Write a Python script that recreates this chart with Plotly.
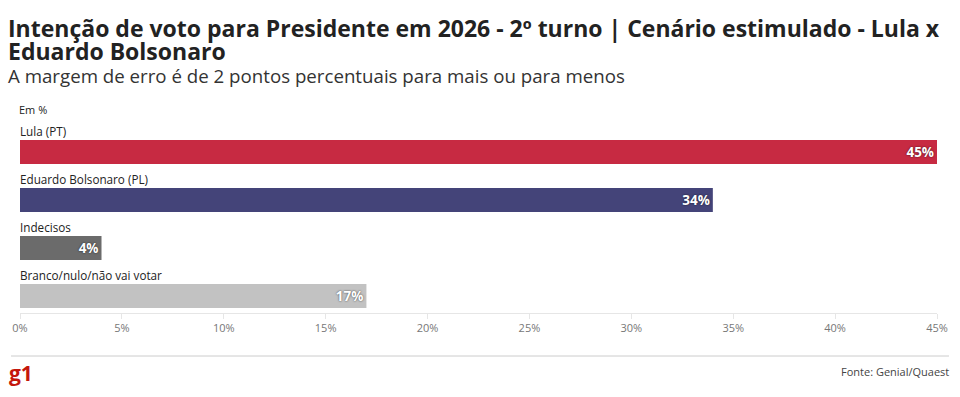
import plotly.graph_objects as go

categories = ["Lula (PT)", "Eduardo Bolsonaro (PL)", "Indecisos", "Branco/nulo/não vai votar"]
values = [45, 34, 4, 17]
colors = ["#c72a42", "#444479", "#6b6b6b", "#c2c2c2"]
tick_vals = [0, 5, 10, 15, 20, 25, 30, 35, 40, 45]
tick_text = [f"{v}%" for v in tick_vals]

title_line1 = "Intenção de voto para Presidente em 2026 - 2º turno | Cenário estimulado - Lula x"
title_line2 = "Eduardo Bolsonaro"
subtitle_text = "A margem de erro é de 2 pontos percentuais para mais ou para menos"
unit_text = "Em %"
source_text = "Fonte: Genial/Quaest"

W, H = 960, 397
L, R = 19, 938
T, B = 120, 313
PW, PH = R - L, B - T


def px_x(p):
    return (p - L) / PW


def px_y(p):
    return (B - p) / PH


ypos = list(range(len(categories)))
FONT = "Open Sans"

fig = go.Figure()
fig.add_trace(go.Bar(
    x=values, y=ypos, orientation="h",
    marker=dict(color=colors, line=dict(width=0)),
    width=0.5,
    text=[f"{v}%" for v in values],
    textposition="inside", insidetextanchor="end",
    textfont=dict(family=FONT, size=13.5, color="white", weight="bold",
                  shadow="0px 0px 2px rgba(0,0,0,0.7)"),
    cliponaxis=False,
    hoverinfo="skip",
))

annotations = []
for i, c in enumerate(categories):
    annotations.append(dict(
        x=0, y=i - 0.25, xref="x", yref="y", text=c, showarrow=False,
        xanchor="left", yanchor="bottom", xshift=-2, yshift=-1,
        font=dict(family=FONT, size=11.7, color="#222"),
    ))

annotations += [
    dict(x=px_x(6), y=px_y(28), xref="paper", yref="paper", text=title_line1,
         showarrow=False, xanchor="left", yanchor="middle", align="left", borderpad=0,
         font=dict(family=FONT, size=23, color="#222", weight="bold")),
    dict(x=px_x(6), y=px_y(51), xref="paper", yref="paper", text=title_line2,
         showarrow=False, xanchor="left", yanchor="middle", align="left", borderpad=0,
         font=dict(family=FONT, size=23, color="#222", weight="bold")),
    dict(x=px_x(6), y=px_y(75), xref="paper", yref="paper", text=subtitle_text,
         showarrow=False, xanchor="left", yanchor="middle", align="left", borderpad=0,
         font=dict(family=FONT, size=18.7, color="#333")),
    dict(x=px_x(16), y=px_y(109), xref="paper", yref="paper", text=unit_text,
         showarrow=False, xanchor="left", yanchor="middle",
         font=dict(family=FONT, size=11, color="#222")),
    dict(x=px_x(6), y=px_y(373), xref="paper", yref="paper", text="g1",
         showarrow=False, xanchor="left", yanchor="middle",
         font=dict(family=FONT, size=21, color="#c4170c", weight="bold")),
    dict(x=px_x(952), y=px_y(371), xref="paper", yref="paper", text=source_text,
         showarrow=False, xanchor="right", yanchor="middle",
         font=dict(family=FONT, size=11, color="#444")),
]

shapes = [
    dict(type="line", xref="paper", yref="paper",
         x0=px_x(10), x1=px_x(950), y0=px_y(356), y1=px_y(356),
         line=dict(color="#cccccc", width=1)),
]

fig.update_layout(
    width=W, height=H,
    margin=dict(l=L, r=W - R, t=T, b=H - B, pad=0),
    paper_bgcolor="white", plot_bgcolor="white",
    showlegend=False,
    bargap=0.5,
    xaxis=dict(range=[0, 45], tickvals=tick_vals, ticktext=tick_text,
               showgrid=False, zeroline=False,
               showline=True, linecolor="#e6e6e6", linewidth=1,
               ticks="outside", ticklen=5, tickcolor="#e6e6e6",
               tickfont=dict(family=FONT, size=11, color="#777"),
               fixedrange=True),
    yaxis=dict(range=[3.354, -0.667], showticklabels=False, showgrid=False,
               zeroline=False, showline=False, fixedrange=True),
    annotations=annotations,
    shapes=shapes,
    uniformtext=dict(minsize=13, mode="show"),
)

fig.write_html("out.html", config={"displayModeBar": False},
               post_script="document.body.style.margin='0';document.body.style.overflow='hidden';")
